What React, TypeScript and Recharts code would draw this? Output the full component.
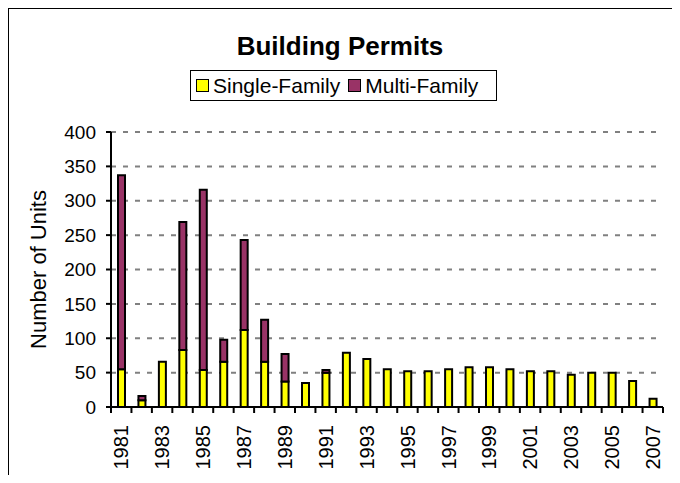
import { BarChart, Bar, XAxis, YAxis, CartesianGrid } from "recharts";

const years = [
  "1981", "1982", "1983", "1984", "1985", "1986", "1987", "1988", "1989",
  "1990", "1991", "1992", "1993", "1994", "1995", "1996", "1997", "1998",
  "1999", "2000", "2001", "2002", "2003", "2004", "2005", "2006", "2007",
];
const singleFamily = [55, 10, 66, 83, 54, 66, 112, 66, 37, 35, 50, 79, 70, 55, 52, 52, 55, 58, 58, 55, 52, 52, 47, 50, 50, 38, 12];
const multiFamily = [282, 6, 0, 186, 262, 32, 131, 61, 40, 0, 4, 0, 0, 0, 0, 0, 0, 0, 0, 0, 0, 0, 0, 0, 0, 0, 0];
const yTicks = [0, 50, 100, 150, 200, 250, 300, 350, 400];

const series = [
  { key: "single", label: "Single-Family", color: "#FFFF00" },
  { key: "multi", label: "Multi-Family", color: "#993366" },
];

const data = years.map((year, i) => ({
  year,
  single: singleFamily[i],
  multi: multiFamily[i],
}));

const FONT = "'Liberation Sans', Arial, sans-serif";
const BAND = 552 / years.length;

function YearTick(props: any) {
  const { x, y, index } = props;
  return (
    <g>
      <line x1={x - BAND / 2} x2={x - BAND / 2} y1={y} y2={y + 6} stroke="#000" strokeWidth={2} />
      {index === years.length - 1 && (
        <line x1={x + BAND / 2} x2={x + BAND / 2} y1={y} y2={y + 6} stroke="#000" strokeWidth={2} />
      )}
      {index % 2 === 0 && (
        <text
          x={x}
          y={y + 18}
          transform={`rotate(-90, ${x}, ${y + 18})`}
          textAnchor="end"
          dy="0.36em"
          fontSize={20}
          fontFamily={FONT}
          fill="#000"
        >
          {props.payload.value}
        </text>
      )}
    </g>
  );
}

export default function App() {
  return (
    <div style={{ position: "relative", width: 680, height: 483, margin: -8, overflow: "hidden", background: "#fff", fontFamily: FONT }}>
      <div style={{ position: "absolute", left: 8, top: 8, width: 664, height: 500, border: "1px solid #000" }} />
      <BarChart
        width={680}
        height={483}
        data={data}
        margin={{ top: 132, right: 17, bottom: 0, left: 0 }}
        style={{ position: "absolute", left: 0, top: 0 }}
      >
        <CartesianGrid vertical={false} stroke="#808080" strokeDasharray="5 7" strokeWidth={2} />
        <XAxis
          dataKey="year"
          height={76}
          interval={0}
          tickSize={0}
          tickMargin={0}
          tickLine={false}
          axisLine={{ stroke: "#000", strokeWidth: 2 }}
          tick={<YearTick />}
        />
        <YAxis
          width={111}
          domain={[0, 400]}
          ticks={yTicks}
          interval={0}
          tickSize={5}
          tickMargin={10}
          axisLine={{ stroke: "#000", strokeWidth: 2 }}
          tickLine={{ stroke: "#000", strokeWidth: 2 }}
          tick={{ fontSize: 19, fill: "#000", fontFamily: FONT }}
          label={{ value: "Number of Units", angle: -90, position: "center", dx: -17, fontSize: 22, fill: "#000", fontFamily: FONT }}
        />
        {series.map((s) => (
          <Bar
            key={s.key}
            dataKey={s.key}
            stackId="a"
            fill={s.color}
            stroke="#000"
            strokeWidth={2}
            barSize={7}
            isAnimationActive={false}
          />
        ))}
      </BarChart>
      <div style={{ position: "absolute", left: 0, top: 32, width: 680, textAlign: "center", fontSize: 26, fontWeight: "bold", lineHeight: "28px" }}>
        Building Permits
      </div>
      <div
        style={{
          position: "absolute",
          left: 190,
          top: 70,
          width: 307,
          height: 31,
          border: "1px solid #000",
          background: "#fff",
          display: "flex",
          alignItems: "center",
          paddingLeft: 5,
          boxSizing: "border-box",
          fontSize: 21,
        }}
      >
        {series.map((s) => (
          <div key={s.key} style={{ display: "flex", alignItems: "center", marginRight: 8 }}>
            <span style={{ width: 11, height: 11, border: "1.5px solid #000", background: s.color, marginRight: 4, display: "inline-block" }} />
            <span>{s.label}</span>
          </div>
        ))}
      </div>
    </div>
  );
}
